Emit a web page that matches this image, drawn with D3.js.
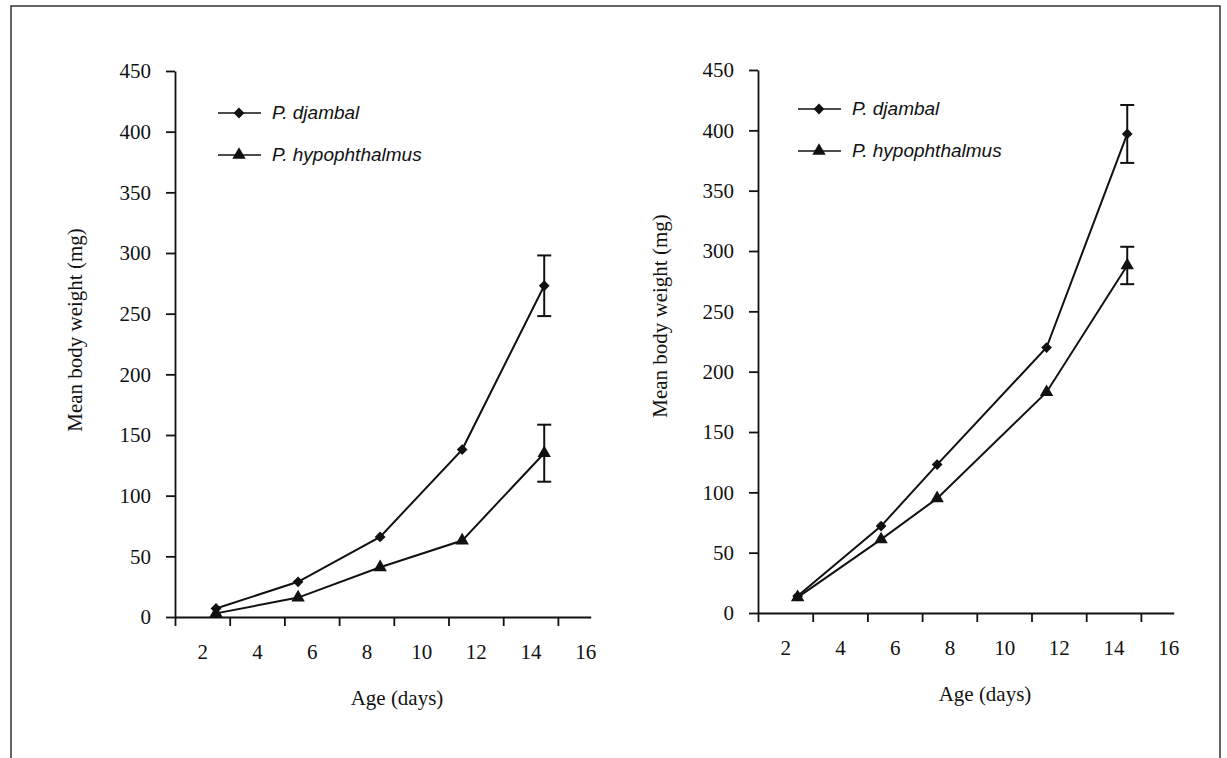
<!DOCTYPE html>
<html>
<head>
<meta charset="utf-8">
<title>Mean body weight by age</title>
<script src="https://d3js.org/d3.v7.min.js"></script>
<style>
  body { margin: 0; background: #fff; }
  svg text { fill: #111; }
  .tick-label { font-family: "Liberation Serif", "Times New Roman", serif; font-size: 21px; }
  .axis-title { font-family: "Liberation Serif", "Times New Roman", serif; font-size: 21px; }
  .legend-text { font-family: "Liberation Sans", Arial, sans-serif; font-size: 19px; font-style: italic; }
</style>
</head>
<body>
<svg id="fig" width="1227" height="758"></svg>
<script>
// tick values
var yTicks = [0, 50, 100, 150, 200, 250, 300, 350, 400, 450];
var xTickMarks = [1, 3, 5, 7, 9, 11, 13, 15];
var xLabels = [2, 4, 6, 8, 10, 12, 14, 16];
var seriesNames = ["P. djambal", "P. hypophthalmus"];

// left panel
var leftAge = [2.5, 5.5, 8.5, 11.5, 14.5];
var leftDjambal = [7, 29, 66, 138, 273];
var leftHypo = [3, 16, 41, 63, 135];
var leftDjambalErr = [null, null, null, null, 25];
var leftHypoErr = [null, null, null, null, 23.5];

// right panel
var rightAge = [2.45, 5.5, 7.55, 11.55, 14.5];
var rightDjambal = [14, 72, 123, 220, 397];
var rightHypo = [13, 61, 95, 183, 288];
var rightDjambalErr = [null, null, null, null, 24];
var rightHypoErr = [null, null, null, null, 15.5];

var svg = d3.select("#fig");

// outer frame of the scanned figure
svg.append("path")
  .attr("d", "M11,770 L11,6 L1220,6 L1220,770")
  .attr("fill", "none")
  .attr("stroke", "#333")
  .attr("stroke-width", 1.5);

function drawPanel(p) {
  var x = d3.scaleLinear().domain([1, 16.2]).range([p.x0, p.x0 + 15.2 * 27.35]);
  var y = d3.scaleLinear().domain([0, 450]).range([p.yBottom, p.yTop]);
  var g = svg.append("g");

  // y axis
  var yAxis = g.append("g")
    .attr("transform", "translate(" + p.x0 + ",0)")
    .call(d3.axisLeft(y).tickValues(yTicks).tickSizeInner(9).tickSizeOuter(0).tickPadding(15));
  yAxis.selectAll("text").attr("class", "tick-label").attr("font-size", null).attr("font-family", null);
  yAxis.selectAll("line, path").attr("stroke", "#111").attr("stroke-width", 1.8);

  // x axis: tick marks at odd days, labels at even days
  var xAxis = g.append("g")
    .attr("transform", "translate(0," + p.yBottom + ")")
    .call(d3.axisBottom(x).tickValues(xTickMarks).tickFormat("").tickSizeInner(9).tickSizeOuter(0));
  xAxis.selectAll("line, path").attr("stroke", "#111").attr("stroke-width", 1.8);

  var xLab = g.append("g")
    .attr("transform", "translate(0," + p.yBottom + ")")
    .call(d3.axisBottom(x).tickValues(xLabels).tickSize(0).tickPadding(27));
  xLab.select(".domain").remove();
  xLab.selectAll("text").attr("class", "tick-label").attr("font-size", null).attr("font-family", null);

  // axis titles
  g.append("text")
    .attr("class", "axis-title")
    .attr("text-anchor", "middle")
    .attr("x", p.xTitleX)
    .attr("y", p.yBottom + 88)
    .text("Age (days)");

  g.append("text")
    .attr("class", "axis-title")
    .attr("text-anchor", "middle")
    .attr("transform", "translate(" + p.yTitleX + "," + p.yTitleY + ") rotate(-90)")
    .text("Mean body weight (mg)");

  var line = d3.line()
    .x(function(d) { return x(d.age); })
    .y(function(d) { return y(d.v); });

  // square turned 45 degrees gives the wide diamond of the original
  var diamond = d3.symbol().type(d3.symbolSquare).size(58);
  var triangle = d3.symbol().type(d3.symbolTriangle).size(78);

  var series = [
    { vals: p.djambal, err: p.djambalErr, sym: diamond, rot: 45 },
    { vals: p.hypo, err: p.hypoErr, sym: triangle, rot: 0 }
  ];

  series.forEach(function(s) {
    var data = p.age.map(function(a, i) { return { age: a, v: s.vals[i], e: s.err[i] }; });

    g.append("path")
      .datum(data)
      .attr("fill", "none")
      .attr("stroke", "#111")
      .attr("stroke-width", 2)
      .attr("d", line);

    // error bars
    var eb = g.selectAll(null)
      .data(data.filter(function(d) { return d.e != null; }))
      .enter().append("g")
      .attr("stroke", "#111")
      .attr("stroke-width", 2);
    eb.append("line")
      .attr("x1", function(d) { return x(d.age); })
      .attr("x2", function(d) { return x(d.age); })
      .attr("y1", function(d) { return y(d.v + d.e); })
      .attr("y2", function(d) { return y(d.v - d.e); });
    eb.append("line")
      .attr("x1", function(d) { return x(d.age) - 7; })
      .attr("x2", function(d) { return x(d.age) + 7; })
      .attr("y1", function(d) { return y(d.v + d.e); })
      .attr("y2", function(d) { return y(d.v + d.e); });
    eb.append("line")
      .attr("x1", function(d) { return x(d.age) - 7; })
      .attr("x2", function(d) { return x(d.age) + 7; })
      .attr("y1", function(d) { return y(d.v - d.e); })
      .attr("y2", function(d) { return y(d.v - d.e); });

    g.selectAll(null)
      .data(data)
      .enter().append("path")
      .attr("d", s.sym)
      .attr("fill", "#111")
      .attr("transform", function(d) {
        return "translate(" + x(d.age) + "," + y(d.v) + ") rotate(" + s.rot + ")";
      });
  });

  // legend
  var leg = g.append("g").attr("transform", "translate(" + p.legX + "," + p.legY + ")");
  var legSyms = [[diamond, 45], [triangle, 0]];
  seriesNames.forEach(function(name, i) {
    var row = leg.append("g").attr("transform", "translate(0," + (i * 42) + ")");
    row.append("line")
      .attr("x1", 0).attr("x2", 43)
      .attr("stroke", "#111").attr("stroke-width", 1.5);
    row.append("path")
      .attr("d", legSyms[i][0])
      .attr("fill", "#111")
      .attr("transform", "translate(21,0) rotate(" + legSyms[i][1] + ")");
    row.append("text")
      .attr("class", "legend-text")
      .attr("x", 54)
      .attr("y", 6)
      .text(name);
  });
}

drawPanel({
  x0: 175, yBottom: 617, yTop: 71,
  age: leftAge, djambal: leftDjambal, hypo: leftHypo,
  djambalErr: leftDjambalErr, hypoErr: leftHypoErr,
  xTitleX: 397, yTitleX: 82, yTitleY: 330,
  legX: 218, legY: 113
});

drawPanel({
  x0: 758, yBottom: 613, yTop: 70,
  age: rightAge, djambal: rightDjambal, hypo: rightHypo,
  djambalErr: rightDjambalErr, hypoErr: rightHypoErr,
  xTitleX: 985, yTitleX: 667, yTitleY: 316,
  legX: 798, legY: 109
});
</script>
</body>
</html>
